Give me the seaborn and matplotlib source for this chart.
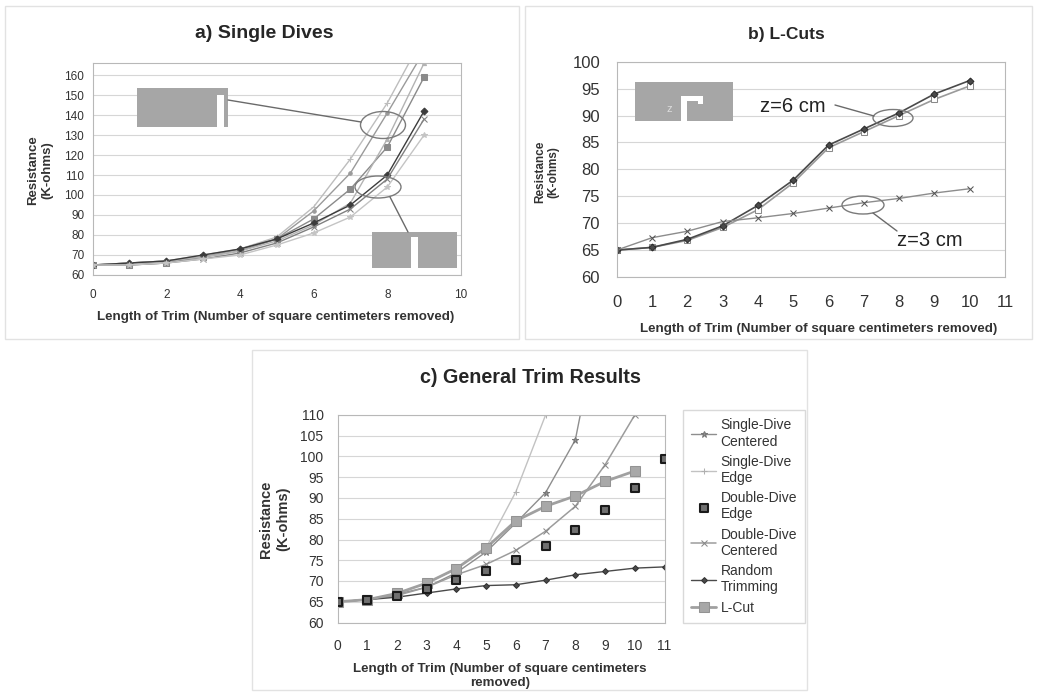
import numpy as np
import pandas as pd
import matplotlib
matplotlib.use("Agg")
import matplotlib.pyplot as plt
import seaborn as sns
from matplotlib.patches import Ellipse, Rectangle
import warnings
warnings.filterwarnings("ignore")

# ---- data ----
# a) Single Dives (resistance in K-ohms, trim length 0..9)
dives_a = {
    "A": [65, 66, 67, 70, 73, 79, 94, 118, 146, 180],
    "B": [65, 66, 67, 69, 73, 78, 92, 111, 141, 172],
    "C": [65, 65, 66, 69, 72, 78, 88, 103, 124, 159],
    "D": [65, 66, 67, 69, 72, 77, 85, 96, 128, 166],
    "E": [65, 66, 67, 70, 73, 78, 86, 95, 110, 142],
    "F": [65, 65, 66, 68, 71, 76, 84, 93, 108, 138],
    "G": [65, 65, 66, 68, 70, 75, 81, 89, 104, 130],
}

# b) L-Cuts (trim length 0..10)
lcut_z6_a = [65, 65.5, 67, 69.5, 73.3, 78, 84.5, 87.5, 90.5, 94, 96.5]
lcut_z6_b = [65, 65.5, 66.8, 69.2, 72.5, 77.5, 84, 87, 90, 93, 95.5]
lcut_z3 = [65, 67.3, 68.5, 70.3, 71, 71.8, 72.8, 73.8, 74.6, 75.6, 76.4]

# c) General Trim Results
sd_centered = [65, 65.5, 66.8, 68.5, 72, 77, 84, 91.3, 104, 140]
sd_edge = [65, 65.5, 67, 69.5, 73, 78, 91.5, 110]
dd_edge = [65, 65.5, 66.5, 68, 70.3, 72.3, 75, 78.4, 82.3, 87.1, 92.3, 99.5]
dd_centered = [65, 65.5, 66.5, 68.5, 71.5, 74, 77.4, 82, 88, 98, 110]
random_trim = [65, 65.5, 66.1, 67.1, 68.1, 68.9, 69.1, 70.2, 71.5, 72.3, 73.1, 73.4]
l_cut = [65, 65.5, 67, 69.5, 73, 78, 84.5, 88, 90.5, 94, 96.5]

W, H = 1037, 693
sns.set_style("white")
plt.rcParams['font.family'] = ['Liberation Sans', 'DejaVu Sans']

fig = plt.figure(figsize=(W / 100, H / 100), dpi=100)


def box(x0, y0, x1, y1):
    return [x0 / W, 1 - y1 / H, (x1 - x0) / W, (y1 - y0) / H]


def style(ax, xlim, xticks, ylim, yticks, fs, padx, pady):
    ax.set_xlim(xlim)
    ax.set_ylim(ylim)
    ax.set_xticks(xticks)
    ax.set_yticks(yticks)
    ax.grid(axis='y', color='#d6d6d6', lw=0.8)
    ax.grid(axis='x', visible=False)
    ax.set_axisbelow(True)
    for s in ax.spines.values():
        s.set_color('#b8b8b8')
        s.set_linewidth(0.8)
    ax.tick_params(axis='x', labelsize=fs, labelcolor='#333333', length=3, color='#b8b8b8', pad=padx)
    ax.tick_params(axis='y', labelsize=fs, labelcolor='#333333', length=3, color='#b8b8b8', pad=pady)
    ax.set_xlabel('')
    ax.set_ylabel('')
    if ax.get_legend() is not None:
        ax.get_legend().remove()


# ---------- panel a ----------
ax_a = fig.add_axes(box(92.5, 63, 461, 275))
styles_a = {
    "A": ('#bdbdbd', '+', 5),
    "B": ('#9a9a9a', 'o', 2.5),
    "C": ('#8a8a8a', 's', 5),
    "D": ('#b3b3b3', '^', 3),
    "E": ('#3c3c3c', 'D', 3.5),
    "F": ('#808080', 'x', 4),
    "G": ('#c4c4c4', '*', 4),
}
for name, vals in dives_a.items():
    c, m, ms = styles_a[name]
    sns.lineplot(x=np.arange(len(vals)), y=vals, ax=ax_a, color=c, marker=m,
                 markersize=ms, lw=1, markeredgecolor=c)
style(ax_a, (0, 10), range(0, 11, 2), (60, 166), range(60, 161, 10), 8.5, 7, 3)

# ---------- panel b ----------
ax_b = fig.add_axes(box(616.7, 61.7, 1005, 277))
xb = np.arange(len(lcut_z6_a))
sns.lineplot(x=xb, y=lcut_z6_b, ax=ax_b, color='#9a9a9a', lw=1.2, marker='s',
             markersize=4, markerfacecolor='white', markeredgecolor='#8a8a8a')
sns.lineplot(x=xb, y=lcut_z6_a, ax=ax_b, color='#4a4a4a', lw=1.2, marker='D',
             markersize=3.5, markeredgecolor='#2a2a2a')
sns.lineplot(x=xb, y=lcut_z3, ax=ax_b, color='#8c8c8c', lw=1, marker='x',
             markersize=4, markeredgecolor='#555555')
style(ax_b, (0, 11), range(0, 12), (60, 100), range(60, 101, 5), 12, 10, 9)

# ---------- panel c ----------
ax_c = fig.add_axes(box(337.5, 415, 664.5, 622.5))
sns.lineplot(x=np.arange(len(sd_centered)), y=sd_centered, ax=ax_c, color='#8e8e8e',
             lw=1, marker='*', markersize=5, markeredgecolor='#777777', label='Single-Dive\nCentered')
sns.lineplot(x=np.arange(len(sd_edge)), y=sd_edge, ax=ax_c, color='#c2c2c2',
             lw=1, marker='+', markersize=5, markeredgecolor='#b0b0b0', label='Single-Dive\nEdge')
sns.scatterplot(x=np.arange(len(dd_edge)), y=dd_edge, ax=ax_c, marker='s', s=38,
                color='#707070', edgecolor='#1a1a1a', linewidth=1.5, zorder=4,
                label='Double-Dive\nEdge')
sns.lineplot(x=np.arange(len(dd_centered)), y=dd_centered, ax=ax_c, color='#9c9c9c',
             lw=1.1, marker='x', markersize=4.5, markeredgecolor='#888888', label='Double-Dive\nCentered')
sns.lineplot(x=np.arange(len(random_trim)), y=random_trim, ax=ax_c, color='#4a4a4a',
             lw=1, marker='D', markersize=3, markeredgecolor='#333333', label='Random\nTrimming')
sns.lineplot(x=np.arange(len(l_cut)), y=l_cut, ax=ax_c, color='#a0a0a0', lw=2,
             marker='s', markersize=7, markerfacecolor='#a8a8a8', markeredgecolor='#939393',
             label='L-Cut')
handles, labels = ax_c.get_legend_handles_labels()
style(ax_c, (0, 11), range(0, 12), (60, 110), range(60, 111, 5), 10, 9, 7)
leg = ax_c.legend(handles, labels, loc='upper left', bbox_to_anchor=(683 / W, 1 - 410 / H),
                  bbox_transform=fig.transFigure, frameon=True, fancybox=False,
                  edgecolor='#d0d0d0', fontsize=10, handlelength=1.8, labelspacing=0.45,
                  borderpad=0.6, handletextpad=0.3, borderaxespad=0)
for t in leg.get_texts():
    t.set_color('#333333')


# ---------- titles and axis labels ----------
def ftext(x, y, s, **kw):
    fig.text(x / W, 1 - y / H, s, ha='center', va='center', **kw)


ftext(264, 33, "a) Single Dives", fontsize=14, fontweight='bold')
ftext(786, 35, "b) L-Cuts", fontsize=12.5, fontweight='bold')
ftext(530, 377, "c) General Trim Results", fontsize=14.2, fontweight='bold')

xl = "Length of Trim (Number of square centimeters removed)"
ftext(276, 317, xl, fontsize=9.6, fontweight='bold', color='#333333')
ftext(819, 329, xl, fontsize=9.6, fontweight='bold', color='#333333')
ftext(500, 676, "Length of Trim (Number of square centimeters\nremoved)", fontsize=9.6,
      fontweight='bold', color='#333333', linespacing=1.2)

yl = "Resistance\n(K-ohms)"
ftext(40, 170, yl, fontsize=9.5, fontweight='bold', color='#333333', rotation=90, linespacing=1.2)
ftext(547, 172, yl, fontsize=8.5, fontweight='bold', color='#333333', rotation=90, linespacing=1.1)
ftext(275, 519, yl, fontsize=10.5, fontweight='bold', color='#333333', rotation=90, linespacing=1.3)

# ---------- overlay: panel frames, inset sketches and callouts ----------
ov = fig.add_axes([0, 0, 1, 1], zorder=5)
ov.set_xlim(0, W)
ov.set_ylim(H, 0)
ov.axis('off')
ov.patch.set_alpha(0)

for (x0, y0, x1, y1) in [(5, 6, 519, 339), (525, 6, 1032, 339), (252, 350, 807, 690)]:
    ov.add_patch(Rectangle((x0, y0), x1 - x0, y1 - y0, fill=False, ec='#e2e2e2', lw=1))

gray = '#a6a6a6'
# panel a: edge dive sketch
ov.add_patch(Rectangle((137, 88), 91, 39, color=gray, lw=0))
ov.add_patch(Rectangle((217, 95), 7, 33, color='white', lw=0))
# panel a: centred dive sketch
ov.add_patch(Rectangle((372, 232), 85, 36, color=gray, lw=0))
ov.add_patch(Rectangle((411, 237), 7, 32, color='white', lw=0))
ov.add_patch(Ellipse((383, 125), 45, 27, fill=False, ec='#7a7a7a', lw=1))
ov.add_patch(Ellipse((378, 187), 46, 22, fill=False, ec='#7a7a7a', lw=1))
ov.plot([228, 361], [100, 122], color='#6a6a6a', lw=1)
ov.plot([390, 408], [197, 232], color='#6a6a6a', lw=1)

# panel b: L-cut sketch
ov.add_patch(Rectangle((635, 82), 98, 39, color=gray, lw=0))
ov.add_patch(Rectangle((681, 96), 6, 26, color='white', lw=0))
ov.add_patch(Rectangle((681, 96), 22, 5, color='white', lw=0))
ov.add_patch(Rectangle((698, 96), 5, 8, color='white', lw=0))
ov.text(669, 109, "z", fontsize=8, color='#dddddd', ha='center', va='center')
ov.add_patch(Ellipse((893, 118), 40, 17, fill=False, ec='#7a7a7a', lw=1))
ov.add_patch(Ellipse((863, 205), 42, 18, fill=False, ec='#7a7a7a', lw=1))
ov.plot([835, 874], [105, 116], color='#6a6a6a', lw=1)
ov.plot([873, 897], [213, 231], color='#6a6a6a', lw=1)
ov.text(760, 107, "z=6 cm", fontsize=14.5, color='#222222', ha='left', va='center')
ov.text(897, 240, "z=3 cm", fontsize=14.5, color='#222222', ha='left', va='center')

fig.savefig('out.png', dpi=100)
